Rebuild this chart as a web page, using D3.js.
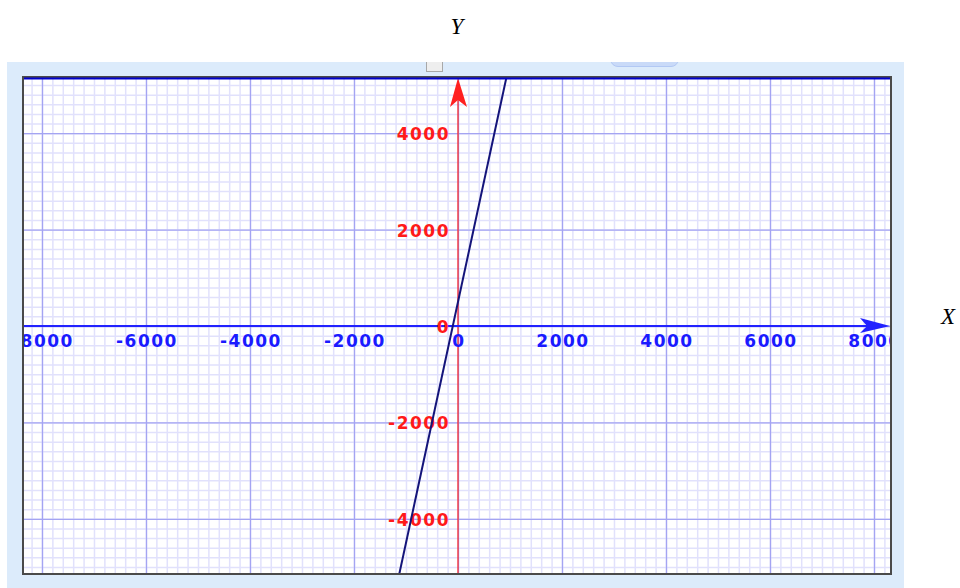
<!DOCTYPE html>
<html>
<head>
<meta charset="utf-8">
<script src="https://cdn.jsdelivr.net/npm/d3@7"></script>
<style>
  body { margin: 0; background: #fff; }
  svg { display: block; }
</style>
</head>
<body>
<svg id="chart"></svg>
<script>
// ticks and data
const xTicks = [-8000, -6000, -4000, -2000, 0, 2000, 4000, 6000, 8000];
const yTicks = [-4000, -2000, 0, 2000, 4000];
const xDomain = [-8365, 8327];
const yDomain = [-5145, 5166];
const lineX = [-1200, 1000];
const lineY = [-5500, 5500];
const minorStep = 200;

const width = 960, height = 588;
const plot = {left: 23, top: 77, right: 891, bottom: 574};

const svg = d3.select('#chart')
  .attr('width', width)
  .attr('height', height);

// light blue panel
svg.append('rect')
  .attr('x', 7).attr('y', 62)
  .attr('width', 897).attr('height', 526)
  .attr('fill', '#dcebfb');

// small widgets peeking at the top of the panel
svg.append('rect')
  .attr('x', 426.5).attr('y', 58.5).attr('width', 16).attr('height', 13)
  .attr('fill', '#eeeeee').attr('stroke', '#a8a8a8');
svg.append('rect')
  .attr('x', 611).attr('y', 54).attr('width', 67).attr('height', 12.5).attr('rx', 7)
  .attr('fill', '#c9daf8').attr('stroke', '#b2c8f4');
svg.append('rect')
  .attr('x', 7).attr('y', 50).attr('width', 897).attr('height', 12)
  .attr('fill', '#fff');

const x = d3.scaleLinear().domain(xDomain).range([plot.left, plot.right]);
const y = d3.scaleLinear().domain(yDomain).range([plot.bottom, plot.top]);

svg.append('defs').append('clipPath').attr('id', 'clip')
  .append('rect')
  .attr('x', plot.left).attr('y', plot.top)
  .attr('width', plot.right - plot.left).attr('height', plot.bottom - plot.top);

// plot background
svg.append('rect')
  .attr('x', plot.left).attr('y', plot.top)
  .attr('width', plot.right - plot.left).attr('height', plot.bottom - plot.top)
  .attr('fill', '#fff');

const g = svg.append('g').attr('clip-path', 'url(#clip)');

// minor grid
const xMinor = d3.range(Math.ceil(xDomain[0] / minorStep) * minorStep, xDomain[1], minorStep);
const yMinor = d3.range(Math.ceil(yDomain[0] / minorStep) * minorStep, yDomain[1], minorStep);

g.append('g')
  .call(d3.axisBottom(x).tickValues(xMinor).tickSize(-(plot.bottom - plot.top)).tickFormat(''))
  .attr('transform', `translate(0, ${plot.bottom})`)
  .call(a => a.select('.domain').remove())
  .call(a => a.selectAll('line').attr('stroke', '#e1e1fc').attr('stroke-width', 1.5));
g.append('g')
  .call(d3.axisLeft(y).tickValues(yMinor).tickSize(-(plot.right - plot.left)).tickFormat(''))
  .attr('transform', `translate(${plot.left}, 0)`)
  .call(a => a.select('.domain').remove())
  .call(a => a.selectAll('line').attr('stroke', '#e1e1fc').attr('stroke-width', 1.5));

// major grid
g.append('g')
  .call(d3.axisBottom(x).tickValues(xTicks).tickSize(-(plot.bottom - plot.top)).tickFormat(''))
  .attr('transform', `translate(0, ${plot.bottom})`)
  .call(a => a.select('.domain').remove())
  .call(a => a.selectAll('line').attr('stroke', '#a4a4f2').attr('stroke-width', 1.3));
g.append('g')
  .call(d3.axisLeft(y).tickValues(yTicks).tickSize(-(plot.right - plot.left)).tickFormat(''))
  .attr('transform', `translate(${plot.left}, 0)`)
  .call(a => a.select('.domain').remove())
  .call(a => a.selectAll('line').attr('stroke', '#a4a4f2').attr('stroke-width', 1.3));

// y axis (red)
g.append('line')
  .attr('x1', x(0)).attr('x2', x(0))
  .attr('y1', plot.bottom).attr('y2', plot.top + 20)
  .attr('stroke', '#ff2020').attr('stroke-width', 1.2);
g.append('path')
  .attr('d', `M${x(0)},${plot.top + 1} L${x(0) + 9},${plot.top + 30} L${x(0)},${plot.top + 23} L${x(0) - 8},${plot.top + 30} Z`)
  .attr('fill', '#ff2020');

// x axis (blue)
g.append('line')
  .attr('x1', plot.left).attr('x2', plot.right - 20)
  .attr('y1', y(0)).attr('y2', y(0))
  .attr('stroke', '#2222ff').attr('stroke-width', 2.2);
g.append('path')
  .attr('d', `M${plot.right - 1},${y(0)} L${plot.right - 31},${y(0) - 8} L${plot.right - 24},${y(0)} L${plot.right - 31},${y(0) + 7} Z`)
  .attr('fill', '#2222ff');

// tick labels (plain hyphen, as in the original)
g.selectAll('.xl').data(xTicks).enter().append('text')
  .attr('class', 'xl')
  .attr('x', d => x(d) + 1)
  .attr('y', y(0) + 21)
  .attr('text-anchor', 'middle')
  .attr('font-family', 'DejaVu Sans, sans-serif')
  .attr('font-weight', 'bold')
  .attr('font-size', '17px')
  .attr('letter-spacing', '1.5px')
  .attr('fill', '#1a1aff')
  .text(d => String(d));

g.selectAll('.yl').data(yTicks).enter().append('text')
  .attr('class', 'yl')
  .attr('x', x(0) - 8)
  .attr('y', d => y(d) + 7)
  .attr('text-anchor', 'end')
  .attr('font-family', 'DejaVu Sans, sans-serif')
  .attr('font-weight', 'bold')
  .attr('font-size', '17px')
  .attr('letter-spacing', '1.5px')
  .attr('fill', '#ff1a1a')
  .text(d => String(d));

// the function line
const line = d3.line()
  .x((d, i) => x(d))
  .y((d, i) => y(lineY[i]));
g.append('path')
  .attr('d', line(lineX))
  .attr('stroke', '#14147a')
  .attr('stroke-width', 2)
  .attr('fill', 'none');

// frame
svg.append('rect')
  .attr('x', plot.left).attr('y', plot.top)
  .attr('width', plot.right - plot.left).attr('height', plot.bottom - plot.top)
  .attr('fill', 'none')
  .attr('stroke', '#4a4a4a').attr('stroke-width', 2);
svg.append('line')
  .attr('x1', plot.left + 1).attr('x2', plot.right - 1)
  .attr('y1', plot.top + 1.5).attr('y2', plot.top + 1.5)
  .attr('stroke', '#0000cc').attr('stroke-width', 2);

// axis names
svg.append('text')
  .attr('x', 457).attr('y', 34)
  .attr('text-anchor', 'middle')
  .attr('font-family', 'Liberation Serif, serif')
  .attr('font-style', 'italic')
  .attr('font-size', '23px')
  .text('Y');
svg.append('text')
  .attr('x', 948).attr('y', 324)
  .attr('text-anchor', 'middle')
  .attr('font-family', 'Liberation Serif, serif')
  .attr('font-style', 'italic')
  .attr('font-size', '23px')
  .text('X');
</script>
</body>
</html>
